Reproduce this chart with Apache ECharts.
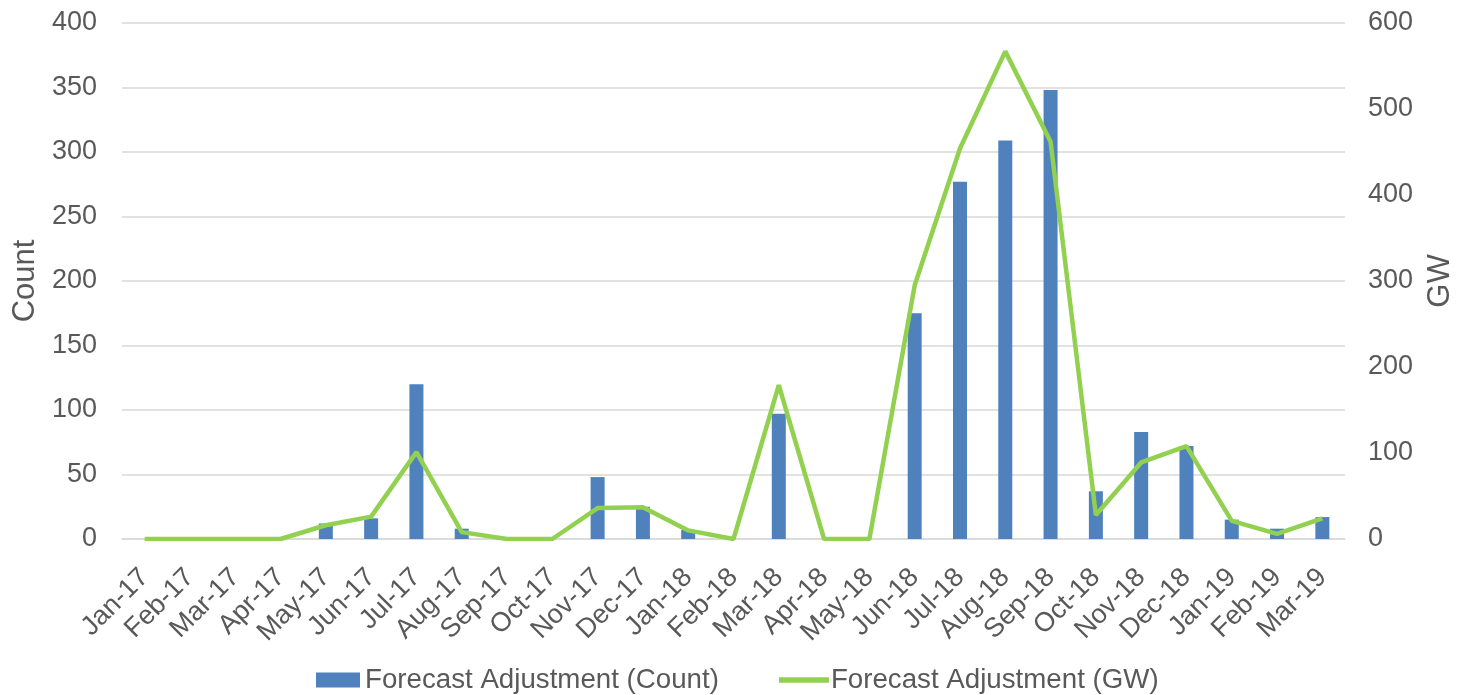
<!DOCTYPE html>
<html>
<head>
<meta charset="utf-8">
<script src="https://cdn.jsdelivr.net/npm/echarts@6/dist/echarts.min.js"></script>
<style>
html, body { margin: 0; padding: 0; background: #fff; }
#chart { width: 1459px; height: 695px; }
</style>
</head>
<body>
<div id="chart"></div>
<script>
// Monthly forecast adjustments, Jan 2017 – Mar 2019
const months = ['Jan-17','Feb-17','Mar-17','Apr-17','May-17','Jun-17','Jul-17','Aug-17','Sep-17','Oct-17','Nov-17','Dec-17',
  'Jan-18','Feb-18','Mar-18','Apr-18','May-18','Jun-18','Jul-18','Aug-18','Sep-18','Oct-18','Nov-18','Dec-18',
  'Jan-19','Feb-19','Mar-19'];
const countValues = [0, 0, 0, 0, 12, 16, 120, 8, 0, 0, 48, 25,
  7, 0, 97, 0, 0, 175, 277, 309, 348, 37, 83, 72,
  15, 8, 17];
const gwValues = [0, 0, 0, 0, 16, 26, 101, 8, 0, 0, 36, 37,
  10, 0, 179, 0, 0, 295, 454, 567, 462, 28, 89, 108,
  21, 6, 24];
const seriesNames = ['Forecast Adjustment (Count)', 'Forecast Adjustment (GW)'];

const textColor = '#595959';
const fontFamily = '"Liberation Sans", Arial, sans-serif';
const barColor = '#4F81BD';
const lineColor = '#92D050';

const chart = echarts.init(document.getElementById('chart'));
chart.setOption({
  animation: false,
  textStyle: { fontFamily: fontFamily, color: textColor },
  grid: { left: 122, right: 114, top: 23, bottom: 156, outerBoundsMode: 'none', containLabel: false },
  legend: {
    top: 661,
    left: 311,
    itemGap: 60,
    itemWidth: 50,
    itemHeight: 15,
    textStyle: { fontSize: 27.7, color: textColor, fontFamily: fontFamily, padding: [0, 0, 0, -3] },
    data: [
      { name: seriesNames[0], icon: 'path://M3,0 L47,0 L47,15 L3,15 Z', itemStyle: { color: barColor } },
      { name: seriesNames[1], icon: 'path://M2,5 L48,5 L48,10 L2,10 Z', itemStyle: { color: lineColor } }
    ]
  },
  xAxis: {
    type: 'category',
    data: months,
    axisTick: { show: false },
    axisLine: { lineStyle: { color: '#d9d9d9', width: 1.5 } },
    axisLabel: { rotate: 45, fontSize: 27, color: textColor, margin: 34, interval: 0 }
  },
  yAxis: [
    {
      type: 'value', min: 0, max: 400, interval: 50,
      name: 'Count', nameLocation: 'middle', nameGap: 71, nameRotate: 90,
      nameTextStyle: { fontSize: 31, color: textColor },
      axisLabel: { fontSize: 27, color: textColor, margin: 25 },
      splitLine: { lineStyle: { color: '#d9d9d9', width: 1.5 } },
      axisLine: { show: false }, axisTick: { show: false }
    },
    {
      type: 'value', min: 0, max: 600, interval: 100,
      name: 'GW', nameLocation: 'middle', nameGap: 80, nameRotate: 90,
      nameTextStyle: { fontSize: 31, color: textColor },
      axisLabel: { fontSize: 27, color: textColor, margin: 23 },
      splitLine: { show: false },
      axisLine: { show: false }, axisTick: { show: false }
    }
  ],
  series: [
    {
      name: seriesNames[0],
      type: 'bar',
      yAxisIndex: 0,
      data: countValues,
      barWidth: 14,
      itemStyle: { color: barColor }
    },
    {
      name: seriesNames[1],
      type: 'line',
      yAxisIndex: 1,
      data: gwValues,
      symbol: 'none',
      lineStyle: { color: lineColor, width: 4.5 },
      itemStyle: { color: lineColor }
    }
  ]
});
</script>
</body>
</html>
